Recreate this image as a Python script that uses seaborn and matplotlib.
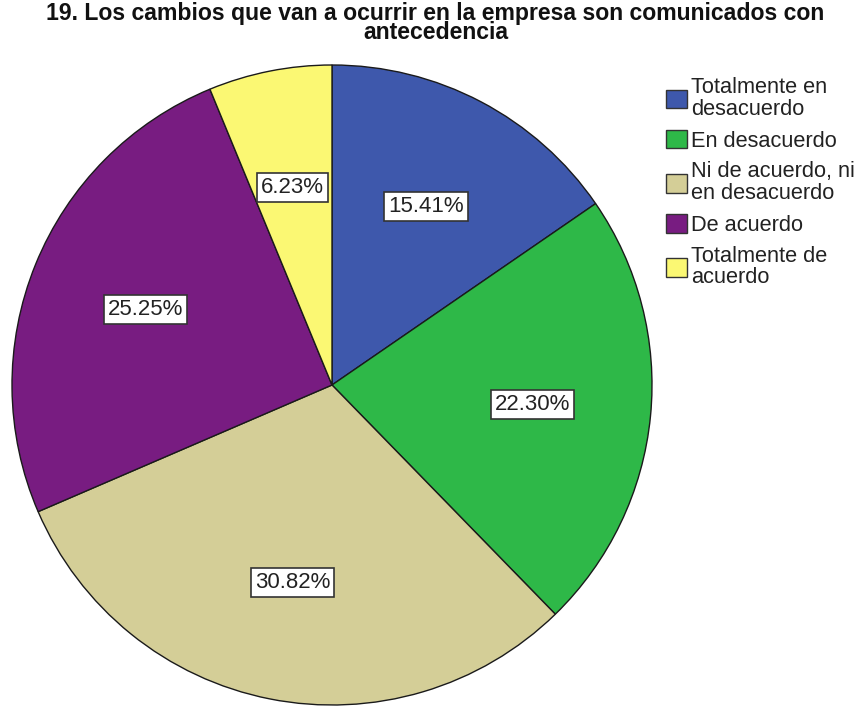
import matplotlib
matplotlib.use("Agg")
import matplotlib.pyplot as plt
import seaborn as sns
from matplotlib.patches import Patch

sns.set_theme(style="white")
plt.rcParams["font.family"] = ["Liberation Sans", "DejaVu Sans"]

title = "19. Los cambios que van a ocurrir en la empresa son comunicados con\nantecedencia"
categories = [
    "Totalmente en\ndesacuerdo",
    "En desacuerdo",
    "Ni de acuerdo, ni\nen desacuerdo",
    "De acuerdo",
    "Totalmente de\nacuerdo",
]
percentages = [15.41, 22.30, 30.82, 25.25, 6.23]
colors = ["#3E58AC", "#2EB848", "#D4CE97", "#781C81", "#FBF873"]

W, H = 864, 709
fig = plt.figure(figsize=(W / 100, H / 100), dpi=100)
ax = fig.add_axes([0, 0, 1, 1])

# pie laid out in pixel units of the canvas (y measured upward)
wedges, texts, autotexts = ax.pie(
    percentages,
    colors=colors,
    startangle=90,
    counterclock=False,
    center=(332, H - 385),
    radius=320,
    autopct="%.2f%%",
    pctdistance=0.63,
    wedgeprops=dict(edgecolor="#1a1a1a", linewidth=1.0),
    textprops=dict(fontsize=16, color="#222222"),
    frame=True,
)
ax.set_xlim(0, W)
ax.set_ylim(0, H)
ax.set_aspect("equal")
ax.axis("off")

for t in autotexts:
    t.set_bbox(dict(boxstyle="square,pad=0.18", facecolor="white",
                    edgecolor="#333333", linewidth=1.2))

fig.text(0.504, 1 - 23 / H, title, ha="center", va="center",
         fontsize=16.6, fontweight="bold", linespacing=0.78, color="#111111")

handles = [Patch(facecolor=c, edgecolor="#333333", linewidth=1.0) for c in colors]
leg = ax.legend(handles, categories, loc="upper left",
                bbox_to_anchor=(666 / W, 1 - 77 / H), bbox_transform=fig.transFigure,
                frameon=False, fontsize=15.7, handlelength=0.95, handleheight=0.95,
                handletextpad=0.2, labelspacing=0.45, borderaxespad=0,
                borderpad=0)
for txt in leg.get_texts():
    txt.set_linespacing(1.05)
    txt.set_color("#222222")

fig.savefig("out.png", dpi=100)
